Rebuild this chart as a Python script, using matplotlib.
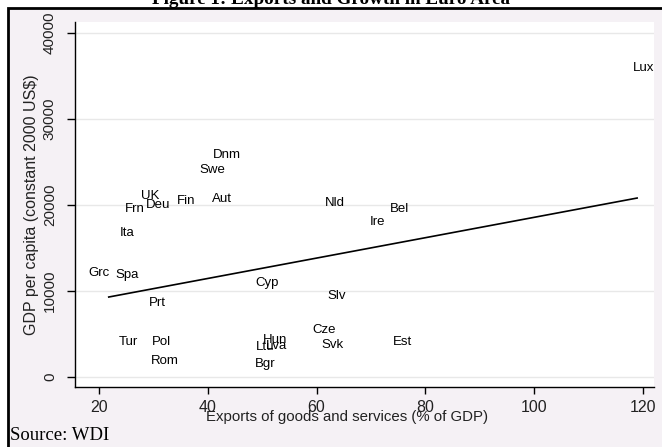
import matplotlib
matplotlib.use("Agg")
import matplotlib.pyplot as plt
from matplotlib.patches import Rectangle

# ---- data ----
countries = ["Lux", "Dnm", "Swe", "UK", "Deu", "Frn", "Fin", "Aut", "Ita", "Grc",
             "Spa", "Prt", "Cyp", "Slv", "Nld", "Bel", "Ire", "Cze", "Svk", "Est",
             "Hun", "Ltu", "Lva", "Bgr", "Tur", "Pol", "Rom"]
exports = [120.0, 43.5, 40.8, 29.4, 30.8, 26.6, 36.0, 42.6, 25.1, 20.0,
           25.1, 30.7, 50.9, 63.7, 63.4, 75.2, 71.1, 61.4, 63.0, 75.7,
           52.4, 50.5, 52.7, 50.5, 25.5, 31.4, 32.1]
gdp_pc = [35930, 25810, 24070, 21050, 20000, 19530, 20460, 20700, 16740, 12090,
          11860, 8600, 10930, 9420, 20230, 19530, 18020, 5460, 3720, 4070,
          4300, 3490, 3600, 1510, 4070, 4070, 1860]
fit_x = [21.8, 118.9]
fit_y = [9300, 20810]
xticks = [20, 40, 60, 80, 100, 120]
yticks = [0, 10000, 20000, 30000, 40000]

W, H = 662, 447
fig = plt.figure(figsize=(W / 100, H / 100), dpi=100)
fig.patch.set_facecolor("white")

# framed background box
box = Rectangle((8 / W, -0.05), 1.0, (H - 8) / H + 0.05, transform=fig.transFigure,
                facecolor="#f5f1f5", edgecolor="black", linewidth=2, zorder=-5)
fig.patches.append(box)

fig.text(0.5, 1 - 4.5 / H, "Figure 1: Exports and Growth in Euro Area",
         ha="center", va="baseline", fontsize=13.8, fontweight="bold",
         family="Liberation Serif", zorder=-4)

ax = fig.add_axes([75 / W, 1 - 387 / H, 579 / W, 365 / H])
ax.set_zorder(1)
ax.set_facecolor("white")
ax.set_xlim(15.6, 122.0)
ax.set_ylim(-1163, 41280)

for yt in yticks:
    ax.axhline(yt, color="#e8e8e8", linewidth=1.0, zorder=1)

ax.plot(fit_x, fit_y, color="black", linewidth=1.2, zorder=3)

for c, xv, yv in zip(countries, exports, gdp_pc):
    ax.text(xv, yv, c, ha="center", va="center", fontsize=9.5,
            family="Liberation Sans", color="black", zorder=4)

for s in ["top", "right"]:
    ax.spines[s].set_visible(False)
for s in ["left", "bottom"]:
    ax.spines[s].set_linewidth(1.0)

ax.set_xticks(xticks)
ax.set_yticks(yticks)
ax.set_xticklabels([str(t) for t in xticks], fontsize=11.5, family="Liberation Sans",
                   color="#222222")
ax.set_yticklabels([str(t) for t in yticks], fontsize=11, family="Liberation Sans",
                   rotation=90, va="center", color="#222222")
ax.tick_params(axis="x", length=5, width=1, pad=4)
ax.tick_params(axis="y", length=6, width=1, pad=7)

ax.set_xlabel("Exports of goods and services (% of GDP)", fontsize=10.8,
              family="Liberation Sans", color="#222222")
ax.xaxis.set_label_coords((347 - 75) / 579, -(410 - 387) / 365)
ax.set_ylabel("GDP per capita (constant 2000 US$)", fontsize=11.5,
              family="Liberation Sans", color="#222222")
ax.yaxis.set_label_coords(-(75 - 39.5) / 579, 0.5)

fig.text(10 / W, 1 - 436 / H, "Source: WDI", ha="left", va="center",
         fontsize=13.5, family="Liberation Serif")

fig.savefig("out.png", dpi=100)
